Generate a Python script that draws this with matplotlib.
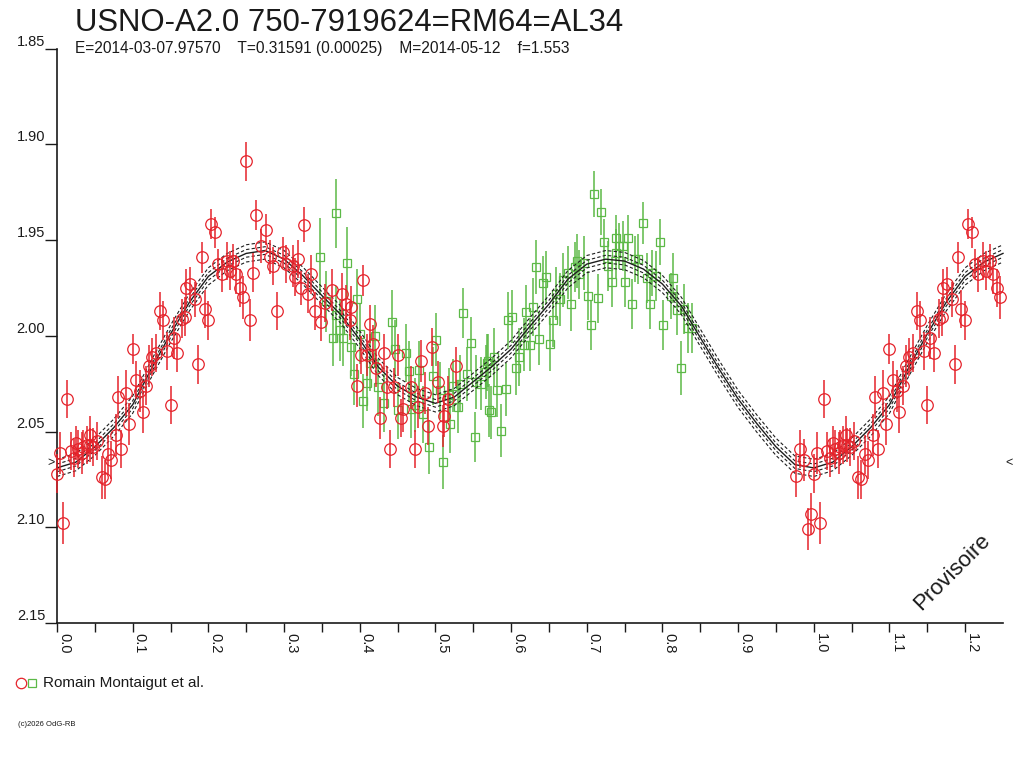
import matplotlib
matplotlib.use("Agg")
import matplotlib.pyplot as plt
import numpy as np

# ---------------- data ----------------
title = "USNO-A2.0 750-7919624=RM64=AL34"
subtitle = "E=2014-03-07.97570    T=0.31591 (0.00025)    M=2014-05-12    f=1.553"
legend_label = "Romain Montaigut et al."
credit = "(c)2026 OdG-RB"
stamp = "Provisoire"
mean_mag = 2.0665

red_phase = [0.000, 0.004, 0.008, 0.0136, 0.018, 0.022, 0.025, 0.028, 0.033, 0.035,
             0.039, 0.043, 0.044, 0.048, 0.053, 0.059, 0.063, 0.068, 0.072, 0.078,
             0.081, 0.085, 0.091, 0.0955, 0.100, 0.104, 0.110, 0.113, 0.118, 0.122,
             0.126, 0.131, 0.136, 0.140, 0.146, 0.150, 0.154, 0.159, 0.165, 0.169,
             0.171, 0.1756, 0.182, 0.186, 0.191, 0.195, 0.200, 0.204, 0.2086, 0.213,
             0.2174, 0.224, 0.228, 0.2327, 0.237, 0.2416, 0.246, 0.2500, 0.2548, 0.259,
             0.2636, 0.270, 0.2768, 0.281, 0.2856, 0.291, 0.2988, 0.303, 0.312, 0.314,
             0.3186, 0.323, 0.327, 0.332, 0.336, 0.3406, 0.349, 0.354, 0.364, 0.377,
             0.382, 0.387, 0.389, 0.396, 0.402, 0.4045, 0.409, 0.413, 0.417, 0.422,
             0.427, 0.432, 0.436, 0.4405, 0.445, 0.4506, 0.454, 0.457, 0.468, 0.473,
             0.477, 0.481, 0.486, 0.490, 0.495, 0.503, 0.510, 0.512, 0.517, 0.527,
             0.977, 0.9818, 0.9866, 0.992, 0.996]
red_mag = [2.072, 2.061, 2.098, 2.033, 2.060, 2.064, 2.056, 2.059, 2.061, 2.058,
           2.057, 2.052, 2.057, 2.058, 2.055, 2.074, 2.075, 2.062, 2.065, 2.052,
           2.032, 2.059, 2.030, 2.046, 2.007, 2.023, 2.029, 2.040, 2.026, 2.016,
           2.011, 2.009, 1.987, 1.992, 2.008, 2.036, 2.001, 2.009, 1.991, 1.990,
           1.975, 1.973, 1.981, 2.015, 1.959, 1.986, 1.992, 1.9416, 1.946, 1.9626,
           1.968, 1.961, 1.966, 1.961, 1.968, 1.975, 1.980, 1.909, 1.992, 1.967,
           1.937, 1.953, 1.9446, 1.959, 1.9635, 1.987, 1.9565, 1.9626, 1.9635, 1.9695,
           1.960, 1.975, 1.942, 1.978, 1.968, 1.987, 1.993, 1.983, 1.976, 1.978,
           1.9835, 1.992, 1.985, 2.026, 2.010, 1.971, 2.010, 1.994, 2.0045, 2.017,
           2.043, 2.009, 2.027, 2.059, 2.027, 2.010, 2.043, 2.0385, 2.027, 2.059,
           2.037, 2.013, 2.030, 2.047, 2.006, 2.024, 2.047, 2.042, 2.033, 2.016,
           2.073, 2.059, 2.0647, 2.101, 2.093]
red_err = [0.010, 0.011, 0.011, 0.010, 0.010, 0.010, 0.009, 0.010, 0.011, 0.009,
           0.010, 0.010, 0.009, 0.010, 0.010, 0.011, 0.010, 0.010, 0.010, 0.011,
           0.011, 0.010, 0.012, 0.011, 0.008, 0.010, 0.011, 0.011, 0.010, 0.011,
           0.010, 0.010, 0.010, 0.010, 0.010, 0.010, 0.011, 0.010, 0.010, 0.010,
           0.010, 0.009, 0.009, 0.010, 0.008, 0.010, 0.010, 0.008, 0.008, 0.008,
           0.009, 0.010, 0.010, 0.009, 0.010, 0.010, 0.011, 0.010, 0.011, 0.010,
           0.008, 0.009, 0.008, 0.009, 0.010, 0.010, 0.008, 0.010, 0.011, 0.010,
           0.010, 0.009, 0.009, 0.010, 0.010, 0.010, 0.010, 0.010, 0.011, 0.011,
           0.010, 0.010, 0.011, 0.011, 0.010, 0.008, 0.011, 0.010, 0.010, 0.010,
           0.011, 0.010, 0.011, 0.010, 0.010, 0.011, 0.010, 0.012, 0.011, 0.010,
           0.011, 0.011, 0.011, 0.010, 0.010, 0.011, 0.011, 0.011, 0.012, 0.010,
           0.011, 0.010, 0.011, 0.011, 0.011]

green_phase = [0.348, 0.356, 0.365, 0.369, 0.369, 0.374, 0.378, 0.383, 0.389, 0.392,
               0.396, 0.401, 0.404, 0.410, 0.414, 0.420, 0.424, 0.432, 0.442, 0.446,
               0.451, 0.461, 0.465, 0.468, 0.473, 0.478, 0.483, 0.492, 0.497, 0.501,
               0.5056, 0.510, 0.518, 0.519, 0.523, 0.530, 0.532, 0.537, 0.5417, 0.5465,
               0.552, 0.554, 0.5606, 0.567, 0.568, 0.569, 0.571, 0.574, 0.578, 0.582,
               0.587, 0.593, 0.596, 0.601, 0.606, 0.610, 0.6165, 0.620, 0.625, 0.629,
               0.633, 0.637, 0.642, 0.6465, 0.651, 0.656, 0.660, 0.665, 0.668, 0.675,
               0.679, 0.684, 0.687, 0.690, 0.697, 0.701, 0.706, 0.710, 0.715, 0.719,
               0.723, 0.728, 0.7335, 0.738, 0.739, 0.742, 0.7475, 0.751, 0.755, 0.760,
               0.764, 0.768, 0.774, 0.779, 0.783, 0.786, 0.792, 0.797, 0.801, 0.811,
               0.8145, 0.819, 0.825, 0.829, 0.8335, 0.839]
green_mag = [1.9587, 1.982, 2.001, 1.936, 1.989, 1.997, 2.001, 1.962, 2.006, 2.020,
             1.981, 1.999, 2.034, 2.0245, 2.014, 2.000, 2.027, 2.035, 1.993, 2.007,
             2.039, 2.009, 2.0185, 2.0385, 2.036, 2.018, 2.041, 2.058, 2.021, 2.002,
             2.0285, 2.066, 2.031, 2.046, 2.026, 2.037, 2.025, 1.988, 2.020, 2.004,
             2.053, 2.024, 2.025, 2.019, 2.014, 2.013, 2.039, 2.040, 2.011, 2.0285,
             2.0495, 2.028, 1.992, 1.990, 2.017, 2.011, 2.0046, 1.9875, 2.0046, 1.985,
             1.964, 2.0015, 1.9725, 1.9695, 2.0045, 1.992, 1.978, 1.981, 1.971, 1.967,
             1.9835, 1.964, 1.961, 1.968, 1.962, 1.979, 1.9945, 1.926, 1.9805, 1.9355,
             1.951, 1.9635, 1.972, 1.949, 1.957, 1.953, 1.953, 1.972, 1.949, 1.9835,
             1.960, 1.960, 1.941, 1.970, 1.9835, 1.967, 1.969, 1.951, 1.9945, 1.979,
             1.970, 1.9865, 2.017, 1.986, 1.996, 1.996]
green_err = [0.020, 0.016, 0.015, 0.018, 0.015, 0.016, 0.015, 0.019, 0.015, 0.016,
             0.016, 0.016, 0.014, 0.015, 0.015, 0.016, 0.015, 0.015, 0.017, 0.015,
             0.015, 0.015, 0.016, 0.015, 0.014, 0.015, 0.015, 0.014, 0.015, 0.014,
             0.015, 0.014, 0.014, 0.015, 0.014, 0.014, 0.015, 0.013, 0.014, 0.014,
             0.013, 0.014, 0.014, 0.014, 0.015, 0.014, 0.014, 0.014, 0.015, 0.014,
             0.014, 0.014, 0.015, 0.014, 0.014, 0.015, 0.014, 0.014, 0.014, 0.015,
             0.014, 0.014, 0.014, 0.014, 0.014, 0.014, 0.014, 0.014, 0.014, 0.014,
             0.014, 0.013, 0.014, 0.013, 0.014, 0.013, 0.013, 0.012, 0.013, 0.012,
             0.012, 0.013, 0.013, 0.012, 0.013, 0.012, 0.013, 0.013, 0.012, 0.013,
             0.012, 0.013, 0.011, 0.013, 0.013, 0.012, 0.013, 0.012, 0.013, 0.012,
             0.013, 0.013, 0.014, 0.013, 0.013, 0.013]

fit_phase = [0.000, 0.025, 0.050, 0.075, 0.100, 0.125, 0.150, 0.175, 0.200, 0.225,
             0.250, 0.275, 0.300, 0.325, 0.350, 0.375, 0.400, 0.425, 0.450, 0.475,
             0.500, 0.525, 0.550, 0.575, 0.600, 0.625, 0.650, 0.675, 0.700, 0.725,
             0.750, 0.775, 0.800, 0.825, 0.850, 0.875, 0.900, 0.925, 0.950, 0.975,
             1.000]
fit_mag = [2.069, 2.066, 2.058, 2.048, 2.036, 2.017, 1.999, 1.9825, 1.969, 1.9615,
           1.957, 1.9555, 1.960, 1.9687, 1.979, 1.989, 2.002, 2.0165, 2.0263, 2.032,
           2.0353, 2.032, 2.024, 2.016, 2.007, 1.995, 1.9835, 1.9705, 1.9626, 1.960,
           1.961, 1.9652, 1.973, 1.9844, 2.001, 2.0175, 2.033, 2.046, 2.058, 2.0673,
           2.069]
band_offsets = [-0.0045, -0.002, 0.002, 0.0045]

y_ticks = [1.85, 1.90, 1.95, 2.00, 2.05, 2.10, 2.15]
x_ticks = [0.0, 0.1, 0.2, 0.3, 0.4, 0.5, 0.6, 0.7, 0.8, 0.9, 1.0, 1.1, 1.2]

RED = "#e5232b"
GREEN = "#5cb947"
CURVE = "#1e1e1e"
TXT = "#1a1a1a"
FONT = ["Liberation Sans", "DejaVu Sans"]

plt.rcParams["font.family"] = FONT

W, H = 1024, 768
fig = plt.figure(figsize=(W / 100, H / 100), dpi=100)
ax_l, ax_r, ax_t, ax_b = 57, 1003, 48.5, 623
ax = fig.add_axes([ax_l / W, 1 - ax_b / H, (ax_r - ax_l) / W, (ax_b - ax_t) / H])
XMAX = 1.25
ax.set_xlim(0, XMAX)
ax.set_ylim(2.15, 1.85)


def wrap(phase, vals, errs=None):
    p = np.asarray(phase, float)
    v = np.asarray(vals, float)
    xs = np.concatenate([p, p + 1])
    ys = np.concatenate([v, v])
    keep = (xs >= 0) & (xs < XMAX)
    if errs is None:
        return xs[keep], ys[keep]
    e = np.asarray(errs, float)
    es = np.concatenate([e, e])
    return xs[keep], ys[keep], es[keep]


# fitted curve and its envelope
fp = np.asarray(fit_phase, float)
fm = np.asarray(fit_mag, float)
fx = np.concatenate([fp, fp[1:] + 1])
fy = np.concatenate([fm, fm[1:]])
keep = fx <= XMAX + 1e-9
fx, fy = fx[keep], fy[keep]
for off in band_offsets:
    ax.plot(fx, fy + off, color=CURVE, lw=0.8, dashes=(3, 2), zorder=3, clip_on=False)
ax.plot(fx, fy, color=CURVE, lw=1.0, zorder=3, clip_on=False)

# green data
gx, gy, ge = wrap(green_phase, green_mag, green_err)
ax.errorbar(gx, gy, yerr=ge, fmt="s", ms=5.5, mfc="none", mec=GREEN, mew=0.9,
            ecolor=GREEN, elinewidth=1.1, capsize=0, zorder=2, clip_on=False)

# red data
rx, ry, re_ = wrap(red_phase, red_mag, red_err)
ax.errorbar(rx, ry, yerr=re_, fmt="o", ms=8.3, mfc="none", mec=RED, mew=0.9,
            ecolor=RED, elinewidth=1.1, capsize=0, zorder=4, clip_on=False)

# axes styling
for s in ("top", "right"):
    ax.spines[s].set_visible(False)
for s in ("left", "bottom"):
    ax.spines[s].set_linewidth(1.2)
    ax.spines[s].set_color(TXT)

ax.set_yticks(y_ticks)
ax.set_yticklabels([f"{v:.2f}" for v in y_ticks])
ax.tick_params(axis="y", direction="out", length=8.5, width=1.0, pad=0,
               labelsize=10.5, colors=TXT)
plt.setp(ax.get_yticklabels(), va="bottom")

ax.set_xticks(x_ticks)
ax.set_xticks(np.arange(0.05, XMAX, 0.1), minor=True)
ax.set_xticklabels([f"{v:.1f}" for v in x_ticks])
ax.tick_params(axis="x", which="both", direction="out", length=6.5, width=1.0,
               pad=1, labelsize=10.5, colors=TXT)
plt.setp(ax.get_xticklabels(), rotation=-90, ha="left", va="top")

# mean-magnitude markers
ax.text(-0.003, mean_mag, ">", ha="right", va="center", fontsize=9, color=TXT, clip_on=False)
ax.text(XMAX + 0.003, mean_mag, "<", ha="left", va="center", fontsize=9, color=TXT, clip_on=False)

# texts
fig.text(75 / W, 1 - 31 / H, title, fontsize=22.4, color=TXT, ha="left", va="baseline")
fig.text(75 / W, 1 - 53.5 / H, subtitle, fontsize=11.2, color=TXT, ha="left", va="baseline")
fig.text(952 / W, 1 - 572 / H, stamp, fontsize=16, color=TXT, rotation=45,
         ha="center", va="center")

# legend
fig.lines.append(plt.Line2D([21 / W], [1 - 683 / H], marker="o", ms=7.5, mfc="none",
                            mec=RED, mew=0.9, transform=fig.transFigure))
fig.lines.append(plt.Line2D([32 / W], [1 - 683 / H], marker="s", ms=5.3, mfc="none",
                            mec=GREEN, mew=0.9, transform=fig.transFigure))
fig.text(43 / W, 1 - 683 / H, legend_label, fontsize=11, color=TXT, ha="left", va="center")
fig.text(18 / W, 1 - 724 / H, credit, fontsize=5.5, color=TXT, ha="left", va="center")

fig.savefig("out.png", dpi=100)
